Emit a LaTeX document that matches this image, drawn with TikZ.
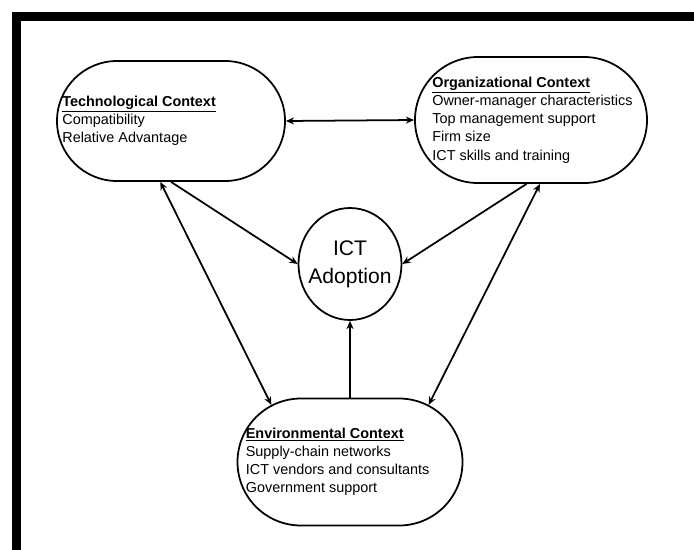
\documentclass[tikz,border=0pt]{standalone}
\usepackage{fontspec}
\setmainfont{Liberation Sans}
\usetikzlibrary{shapes.misc,shapes.geometric,arrows.meta}

\begin{document}
\begin{tikzpicture}[
    x=0.03cm, y=-0.03cm,
    ctx/.style={draw, rounded rectangle, line width=1.5pt, inner sep=0pt},
    core/.style={draw, ellipse, line width=1.5pt, inner ysep=0pt, inner xsep=-5pt, minimum width=3.09cm, minimum height=3.36cm, align=center, font=\fontsize{18}{24}\selectfont},
    items/.style={anchor=west, align=left, inner sep=0pt, font=\fontsize{12.3}{15.5}\selectfont},
    link/.style={line width=1.5pt, {Stealth[length=7pt, width=6pt]}-{Stealth[length=7pt, width=6pt]}},
    feed/.style={line width=1.5pt, -{Stealth[length=7pt, width=6pt]}}
]
\useasboundingbox (0,0) rectangle (694,549);
\clip (0,0) rectangle (694,549);
\fill[white] (0,0) rectangle (694,549);
\draw[line width=0.246cm] (16.4,16.4) rectangle (720,575);

% the three contexts and the core
\node[ctx, minimum width=6.84cm, minimum height=3.6cm] (tech) at (171,121) {};
\node[ctx, minimum width=6.96cm, minimum height=3.78cm] (org) at (531,120) {};
\node[ctx, minimum width=6.75cm, minimum height=3.81cm] (env) at (350,462) {};
\node[core] (ict) at (350,264) {ICT\\Adoption};

\node[items] (techtxt) at ([xshift=0.18cm]tech.west) {\textbf{\underline{Technological Context}}\\Compatibility\\Relative Advantage};
\node[items] (orgtxt) at ([xshift=0.54cm]org.west) {\textbf{\underline{Organizational Context}}\\Owner-manager characteristics\\Top management support\\Firm size\\ICT skills and training};
\node[items] (envtxt) at ([xshift=0.27cm]env.west) {\textbf{\underline{Environmental Context}}\\Supply-chain networks\\ICT vendors and consultants\\Government support};

% links
\draw[link] (tech.east) -- (org.west);
\draw[link] (env.144) -- (tech.260);
\draw[link] (env.36) -- (org.278);
\draw[feed] (tech.south) -- (ict.west);
\draw[feed] (org.266) -- (ict.east);
\draw[feed] (env.north) -- (ict.south);
\end{tikzpicture}
\end{document}
